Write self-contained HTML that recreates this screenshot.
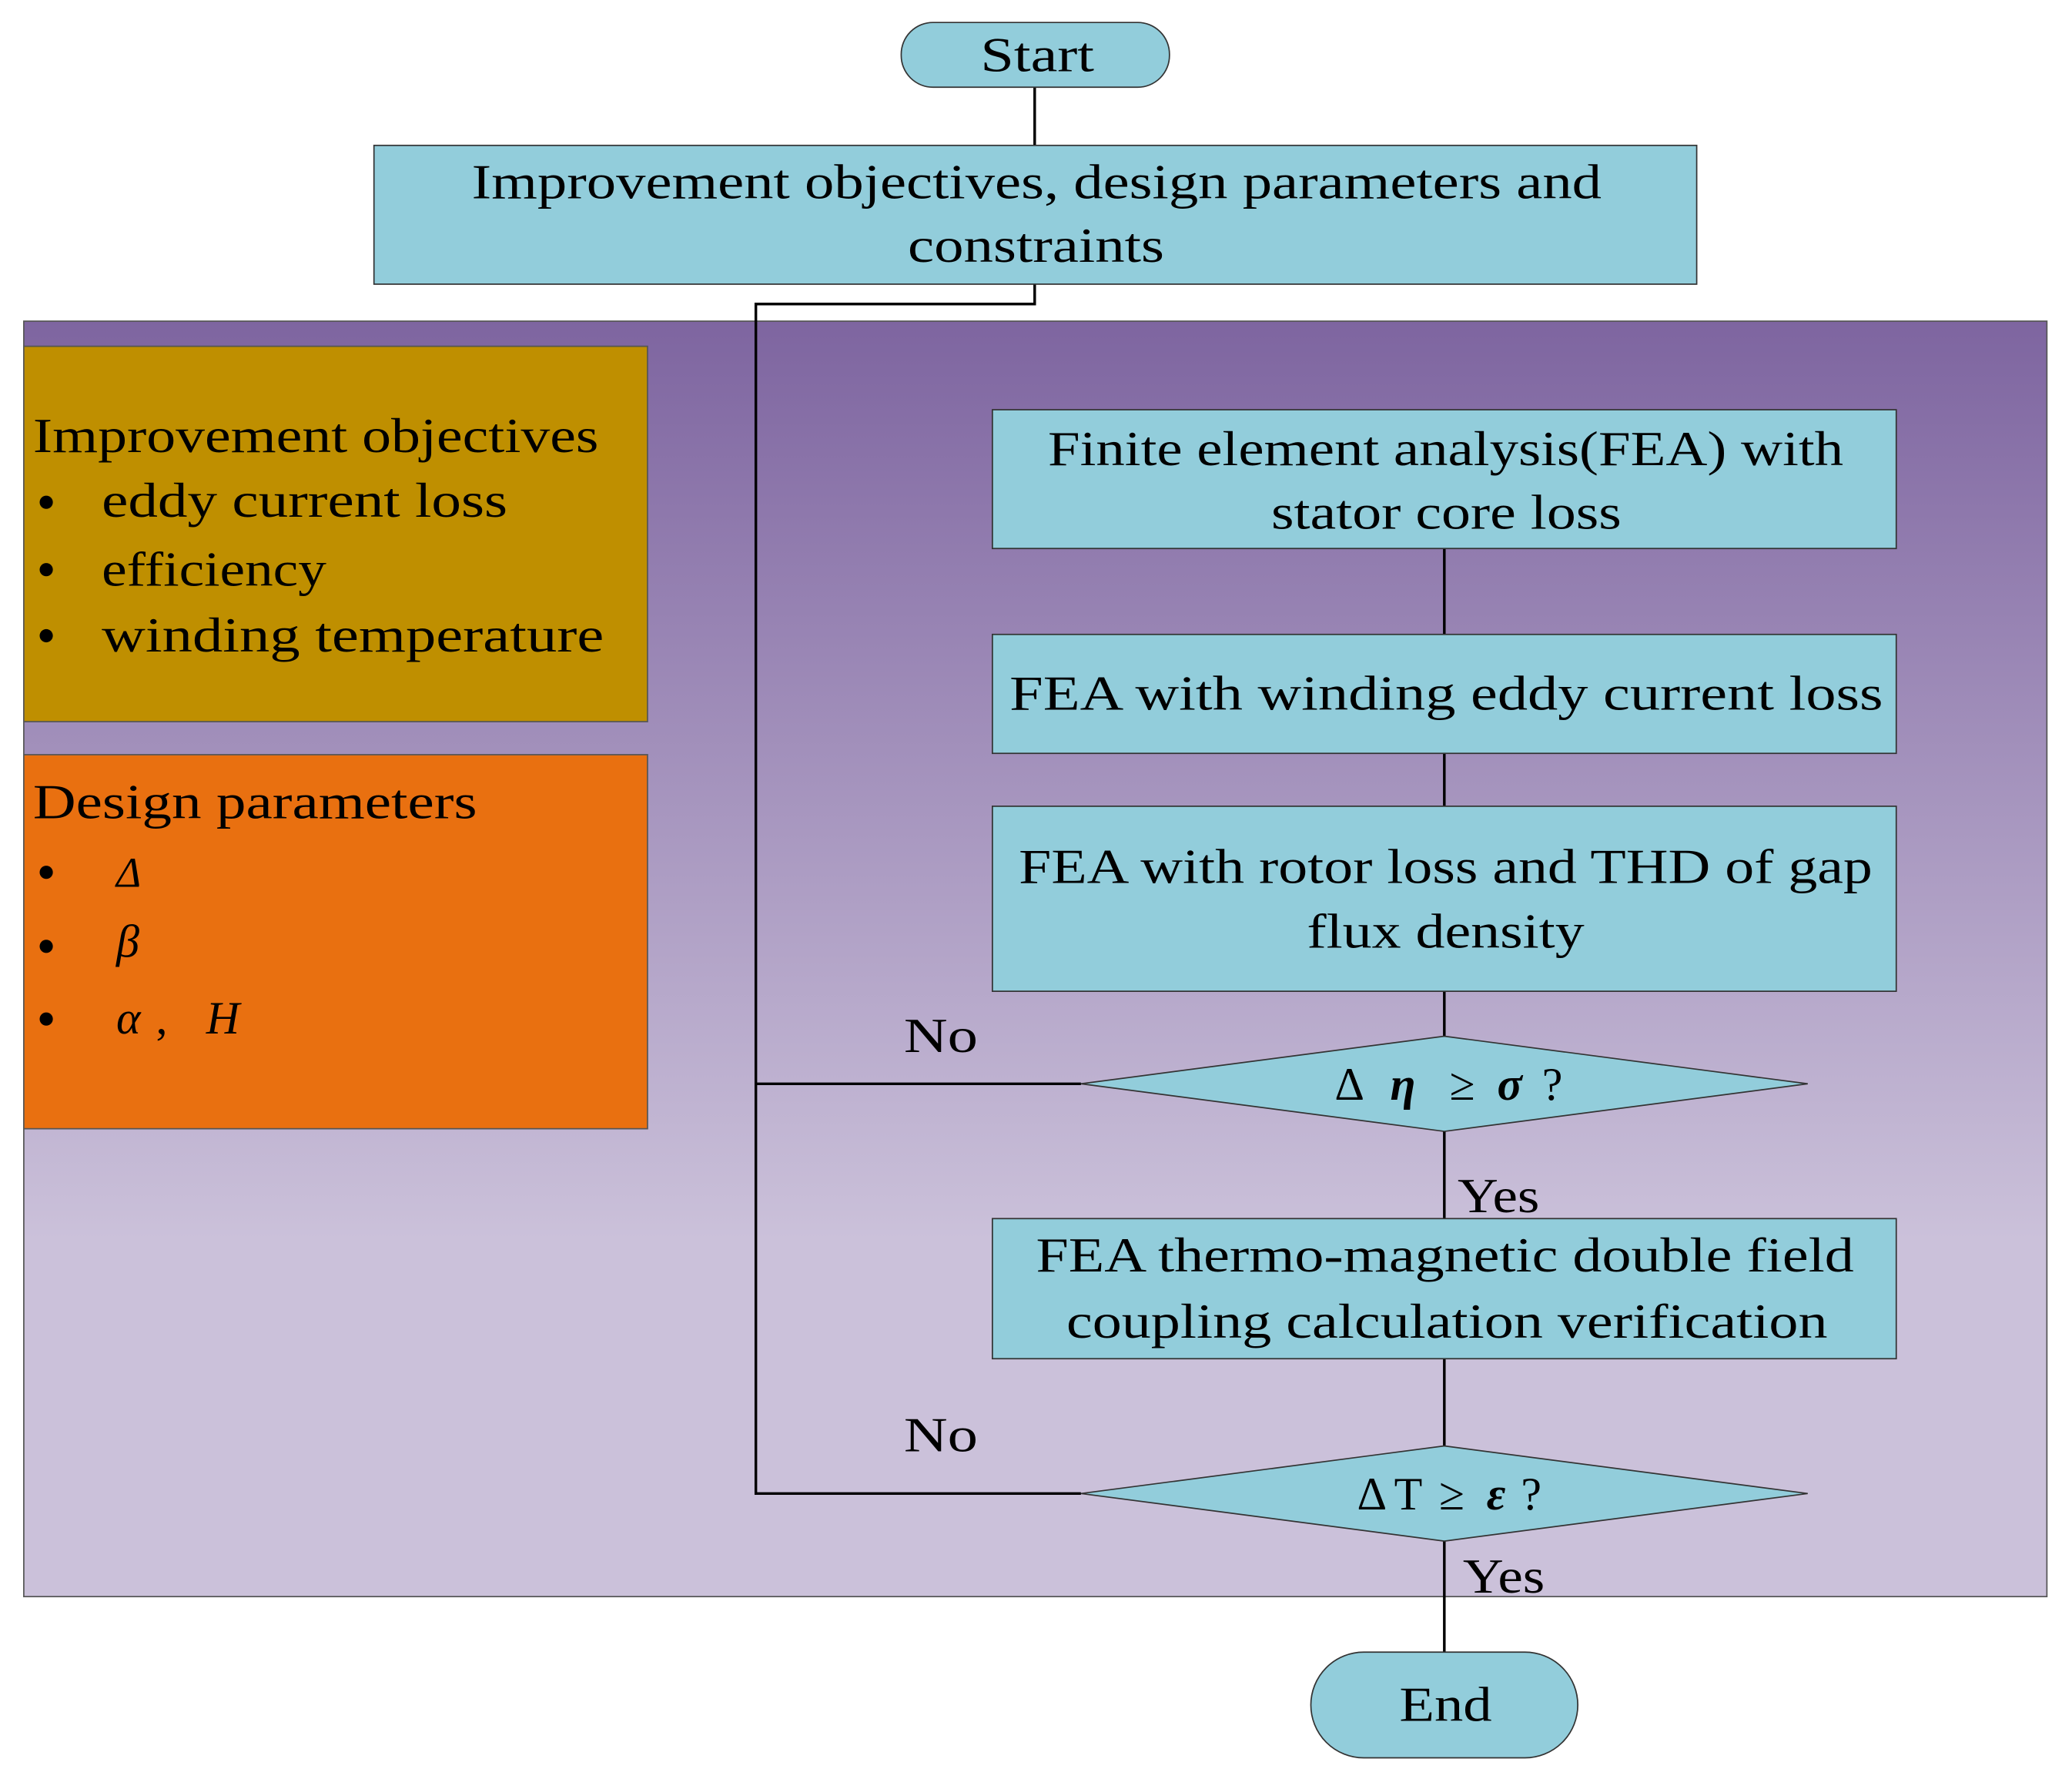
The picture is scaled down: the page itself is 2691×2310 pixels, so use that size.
<!DOCTYPE html>
<html><head><meta charset="utf-8"><style>html,body{margin:0;padding:0;background:#fff}svg{display:block}</style></head>
<body>
<svg width="2691" height="2310" viewBox="0 0 1568 1346" xmlns="http://www.w3.org/2000/svg" font-family="Liberation Serif, serif" font-size="37">
<defs>
<linearGradient id="g" x1="0" y1="0" x2="0" y2="1">
<stop offset="0" stop-color="#7E65A0"/>
<stop offset="0.72" stop-color="#CBC1DA"/>
<stop offset="1" stop-color="#CBC1DA"/>
</linearGradient>
</defs>
<rect x="18" y="243" width="1531" height="965" fill="url(#g)" stroke="#555" stroke-width="1"/>
<rect x="18" y="262" width="472" height="284" fill="#BF8F00" stroke="#555" stroke-width="1"/>
<rect x="18" y="571" width="472" height="283" fill="#E97010" stroke="#555" stroke-width="1"/>
<g stroke="#000" stroke-width="2" fill="none">
<path d="M783 66V110M783 215V230H572V1130H818M572 820H818"/>
<path d="M1093 415V480M1093 570V610M1093 750V784M1093 856V922M1093 1028V1094M1093 1166V1250"/>
</g>
<g fill="#92CDDB" stroke="#333" stroke-width="1">
<rect x="682" y="17" width="203" height="49" rx="24"/>
<rect x="283" y="110" width="1001" height="105"/>
<rect x="751" y="310" width="684" height="105"/>
<rect x="751" y="480" width="684" height="90"/>
<rect x="751" y="610" width="684" height="140"/>
<rect x="751" y="922" width="684" height="106"/>
<polygon points="818,820 1093,784 1368,820 1093,856"/>
<polygon points="818,1130 1093,1094 1368,1130 1093,1166"/>
<rect x="992" y="1250" width="202" height="80" rx="40"/>
</g>
<g fill="#000">
<text x="742" y="54" textLength="86" lengthAdjust="spacingAndGlyphs">Start</text>
<text x="357" y="150" textLength="855" lengthAdjust="spacingAndGlyphs">Improvement objectives, design parameters and</text>
<text x="687" y="198" textLength="194" lengthAdjust="spacingAndGlyphs">constraints</text>
<text x="793" y="352" textLength="602" lengthAdjust="spacingAndGlyphs">Finite element analysis(FEA) with</text>
<text x="962" y="400" textLength="265" lengthAdjust="spacingAndGlyphs">stator core loss</text>
<text x="764" y="537" textLength="661" lengthAdjust="spacingAndGlyphs">FEA with  winding eddy current loss</text>
<text x="771" y="668" textLength="646" lengthAdjust="spacingAndGlyphs">FEA with rotor loss and THD of gap</text>
<text x="989" y="717" textLength="210" lengthAdjust="spacingAndGlyphs">flux density</text>
<text x="784" y="962" textLength="619" lengthAdjust="spacingAndGlyphs">FEA thermo-magnetic double field</text>
<text x="807" y="1012" textLength="576" lengthAdjust="spacingAndGlyphs">coupling calculation verification</text>
<text x="1059" y="1302" textLength="70" lengthAdjust="spacingAndGlyphs">End</text>
<text x="1010" y="832" font-size="35">Δ</text>
<text x="1052" y="832" font-size="35" font-style="italic" font-weight="bold">η</text>
<text x="1097" y="832" font-size="35">≥</text>
<text x="1133" y="832" font-size="35" font-style="italic" font-weight="bold">σ</text>
<text x="1167" y="832" font-size="35">?</text>
<text x="1027" y="1142" font-size="35">Δ</text>
<text x="1055" y="1142" font-size="35">T</text>
<text x="1089" y="1142" font-size="35">≥</text>
<text x="1125" y="1142" font-size="35" font-style="italic" font-weight="bold">ε</text>
<text x="1151" y="1142" font-size="35">?</text>
<text x="684" y="796" textLength="56" lengthAdjust="spacingAndGlyphs">No</text>
<text x="684" y="1098" textLength="56" lengthAdjust="spacingAndGlyphs">No</text>
<text x="1103" y="917" textLength="62" lengthAdjust="spacingAndGlyphs">Yes</text>
<text x="1107" y="1205" textLength="62" lengthAdjust="spacingAndGlyphs">Yes</text>
<text x="25" y="342" textLength="428" lengthAdjust="spacingAndGlyphs">Improvement objectives</text>
<circle cx="35" cy="380" r="5"/><text x="77" y="391" textLength="307" lengthAdjust="spacingAndGlyphs">eddy current loss</text>
<circle cx="35" cy="431" r="5"/><text x="77" y="443" textLength="170" lengthAdjust="spacingAndGlyphs">efficiency</text>
<circle cx="35" cy="481" r="5"/><text x="77" y="493" textLength="380" lengthAdjust="spacingAndGlyphs">winding temperature</text>
<text x="25" y="619" textLength="336" lengthAdjust="spacingAndGlyphs">Design parameters</text>
<circle cx="35" cy="660" r="5"/><text x="88" y="671" font-style="italic" font-size="32">Δ</text>
<circle cx="35" cy="716" r="5"/><text x="88" y="724" font-style="italic" font-size="35">β</text>
<circle cx="35" cy="771" r="5"/><text x="88" y="782" font-style="italic" font-size="35">α</text>
<text x="118" y="782" font-size="35">,</text>
<text x="156" y="782" font-style="italic" font-size="35">H</text>
</g>
</svg>
</body></html>
